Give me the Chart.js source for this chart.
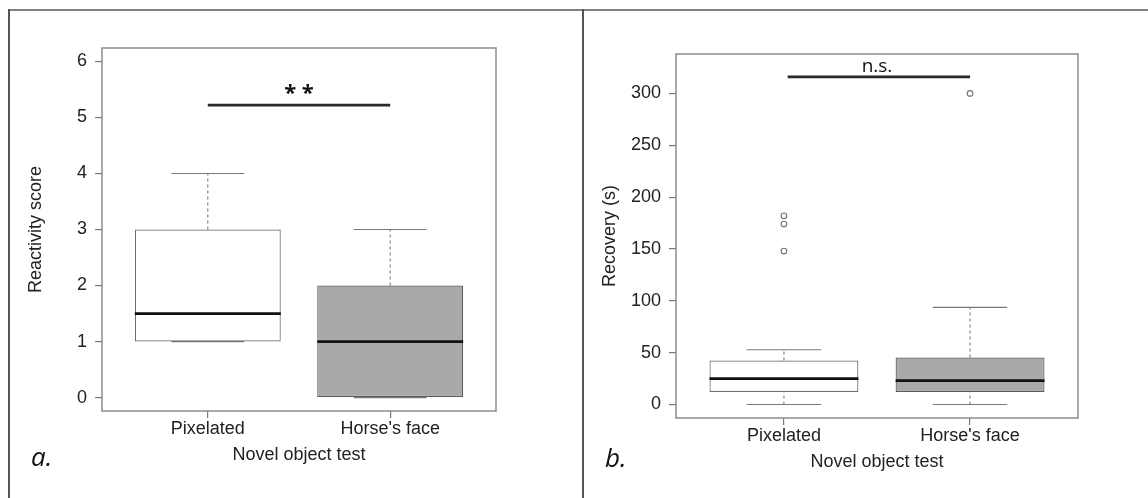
<!DOCTYPE html>
<html><head><meta charset="utf-8">
<script src="https://cdn.jsdelivr.net/npm/chart.js@4.4.1/dist/chart.umd.min.js"></script>
<style>
html,body{margin:0;padding:0;background:#fff;}
#wrap{position:relative;width:1148px;height:498px;overflow:hidden;background:#fff;}
canvas{position:absolute;left:0;top:0;}
.rule{position:absolute;background:#808080;}
.tag{position:absolute;font-family:"Open Sans",sans-serif;font-style:italic;font-size:26px;color:#111;line-height:1;}
</style></head><body>
<div id="wrap">
<canvas id="ca" width="1148" height="498"></canvas>
<canvas id="cb" width="1148" height="498"></canvas>
<div class="rule" style="left:9px;top:9px;width:1139px;height:2px;"></div>
<div class="rule" style="left:8px;top:9px;width:2px;height:489px;background:#555"></div>
<div class="rule" style="left:582px;top:9px;width:2px;height:489px;background:#555"></div>
<div class="tag" style="left:31px;top:443px;">a.</div>
<div class="tag" style="left:605px;top:444px;">b.</div>
</div>
<script>
// ---- shared categories ----
const categories = ["Pixelated", "Horse's face"];
const xPos = [1, 2];
const boxFill = ["#ffffff", "#a9a9a9"];
const xTitle = "Novel object test";

// ---- panel a: Reactivity score ----
const aTitle = "Reactivity score";
const aTicks = [0, 1, 2, 3, 4, 5, 6];
const aQ1 = [1, 0];
const aMed = [1.5, 1];
const aQ3 = [3, 2];
const aLow = [1, 0];
const aHigh = [4, 3];
const aOutX = [];
const aOutY = [];
const aSigX = [1, 2];
const aSigY = 5.22;
const aSigLabel = "* *";
const aSigLabelY = 5.42;

// ---- panel b: Recovery (s) ----
const bTitle = "Recovery (s)";
const bTicks = [0, 50, 100, 150, 200, 250, 300];
const bQ1 = [12, 12];
const bMed = [25, 23];
const bQ3 = [42.5, 45.4];
const bLow = [0, 0];
const bHigh = [52.8, 93.7];
const bOutX = [1, 1, 1, 2];
const bOutY = [182, 174, 148, 300];
const bSigX = [1.02, 2];
const bSigY = 316;
const bSigLabel = "n.s.";
const bSigLabelY = 326;

const BOXWEX = 0.8, STAPLE = 0.4;
const TXT = '#222';
const FONT = 'Liberation Sans, Arial, sans-serif';

const framePlugin = {
  id: 'frame',
  beforeDatasetsDraw(chart) {
    const {ctx, chartArea: a} = chart;
    ctx.save();
    ctx.strokeStyle = '#8c8c8c';
    ctx.lineWidth = 1.5;
    ctx.strokeRect(a.left, a.top, a.right - a.left, a.bottom - a.top);
    ctx.restore();
  },
  afterDatasetsDraw(chart, args, opts) {
    if (!opts.label) return;
    const {ctx, scales} = chart;
    ctx.save();
    ctx.fillStyle = '#111';
    ctx.font = opts.font;
    ctx.textAlign = 'center';
    ctx.textBaseline = 'middle';
    ctx.fillText(opts.label, scales.x.getPixelForValue(opts.x), scales.y.getPixelForValue(opts.y));
    ctx.restore();
  }
};

function segs(list) {
  const out = [];
  list.forEach((s, i) => {
    if (i > 0) out.push({x: s[0][0], y: null});
    out.push({x: s[0][0], y: s[0][1]});
    out.push({x: s[1][0], y: s[1][1]});
  });
  return out;
}

function makeChart(id, d) {
  const half = BOXWEX / 2, sh = STAPLE / 2;
  const medians = segs(xPos.map((x, i) => [[x - half, d.med[i]], [x + half, d.med[i]]]));
  const whiskers = segs(xPos.flatMap((x, i) => [[[x, d.q3[i]], [x, d.high[i]]], [[x, d.low[i]], [x, d.q1[i]]]]));
  const staples = segs(xPos.flatMap((x, i) => [[[x - sh, d.high[i]], [x + sh, d.high[i]]], [[x - sh, d.low[i]], [x + sh, d.low[i]]]]));
  const outliers = d.outX.map((x, i) => ({x: x, y: d.outY[i]}));
  const boxes = xPos.map((x, i) => ({x: x, y: [d.q1[i], d.q3[i]]}));
  const lineBase = {type: 'line', pointRadius: 0, fill: false, spanGaps: false, tension: 0, borderCapStyle: 'butt'};

  return new Chart(document.getElementById(id), {
    type: 'bar',
    data: {
      datasets: [
        Object.assign({}, lineBase, {data: [{x: d.sigX[0], y: d.sigY}, {x: d.sigX[1], y: d.sigY}], borderColor: '#2a2a2a', borderWidth: 2.7, order: 0}),
        Object.assign({}, lineBase, {data: medians, borderColor: '#111', borderWidth: 2.7, order: 0}),
        Object.assign({}, lineBase, {data: whiskers, borderColor: '#7a7a7a', borderWidth: 1.1, borderDash: [3, 3], order: 6}),
        Object.assign({}, lineBase, {data: staples, borderColor: '#7a7a7a', borderWidth: 1.2, order: 6}),
        {type: 'line', showLine: false, data: outliers, pointRadius: 2.8, pointStyle: 'circle',
         pointBackgroundColor: 'rgba(255,255,255,0)', pointBorderColor: '#777', pointBorderWidth: 1.2, order: 0},
        {type: 'bar', data: boxes, backgroundColor: boxFill, borderColor: ['#6e6e6e', '#5a5a5a'], borderWidth: 1.2,
         borderSkipped: false, barPercentage: BOXWEX, categoryPercentage: 1, order: 5}
      ]
    },
    options: {
      responsive: false, animation: false, devicePixelRatio: 1,
      layout: {padding: d.pad},
      plugins: {legend: {display: false}, tooltip: {enabled: false},
        frame: {label: d.sigLabel, x: 1.5, y: d.sigLabelY, font: d.sigFont}},
      scales: {
        x: {
          type: 'linear', min: 0.42, max: 2.58, offset: false, bounds: 'data', beginAtZero: false,
          afterBuildTicks: s => { s.ticks = xPos.map(v => ({value: v})); },
          afterFit: s => { s.height = 54.8; },
          grid: {offset: false, drawOnChartArea: false, drawTicks: true, tickLength: 7, color: '#7a7a7a', lineWidth: 1.2},
          border: {display: false},
          ticks: {callback: v => categories[xPos.indexOf(v)], padding: 0, maxRotation: 0, autoSkip: false,
                  color: TXT, font: {family: FONT, size: 18}},
          title: {display: true, text: xTitle, padding: 0, color: TXT, font: {family: FONT, size: 18}}
        },
        y: {
          type: 'linear', min: d.yMin, max: d.yMax, bounds: 'data', beginAtZero: false,
          afterBuildTicks: s => { s.ticks = d.ticks.map(v => ({value: v})); },
          afterFit: s => { s.width = 77; },
          grid: {drawOnChartArea: false, drawTicks: true, tickLength: 7, color: '#7a7a7a', lineWidth: 1.2},
          border: {display: false},
          ticks: {padding: 8, color: TXT, font: {family: FONT, size: 18}},
          title: {display: true, text: d.yTitle, padding: 0, color: TXT, font: {family: FONT, size: 18}}
        }
      }
    },
    plugins: [framePlugin]
  });
}

makeChart('ca', {
  q1: aQ1, med: aMed, q3: aQ3, low: aLow, high: aHigh, outX: aOutX, outY: aOutY,
  ticks: aTicks, yMin: -0.24, yMax: 6.24, yTitle: aTitle,
  sigX: aSigX, sigY: aSigY, sigLabel: aSigLabel, sigLabelY: aSigLabelY,
  sigFont: 'bold 22px "Open Sans", sans-serif',
  pad: {left: 25, top: 48, right: 652, bottom: 32.2}
});
makeChart('cb', {
  q1: bQ1, med: bMed, q3: bQ3, low: bLow, high: bHigh, outX: bOutX, outY: bOutY,
  ticks: bTicks, yMin: -13, yMax: 338, yTitle: bTitle,
  sigX: bSigX, sigY: bSigY, sigLabel: bSigLabel, sigLabelY: bSigLabelY,
  sigFont: '19px "Open Sans", sans-serif',
  pad: {left: 599, top: 54, right: 70, bottom: 25.2}
});
</script>
</body></html>
